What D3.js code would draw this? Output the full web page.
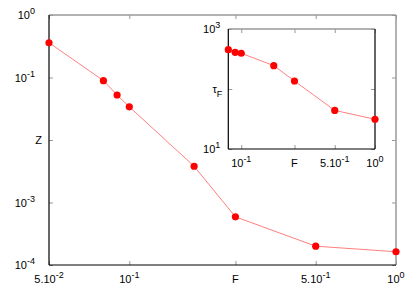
<!DOCTYPE html>
<html>
<head>
<meta charset="utf-8">
<script src="https://cdn.jsdelivr.net/npm/d3@7"></script>
<style>
body { margin: 0; background: #fff; }
text { font-family: "Liberation Sans", Arial, sans-serif; font-size: 11px; fill: #000; }
</style>
</head>
<body>
<script>
var w = 415, h = 291;

// main plot data
var F = [0.05, 0.08, 0.09, 0.1, 0.175, 0.25, 0.5, 1];
var Z = [0.36, 0.089, 0.0525, 0.034, 0.0038, 0.00059, 0.0002, 0.000163];
// inset data
var Fin = [0.08, 0.09, 0.1, 0.175, 0.25, 0.5, 1];
var tauF = [452, 409, 394, 245, 136, 44, 31.3];

// tick values and labels [base, superscript]
var mainXTicks = [0.05, 0.1, 0.25, 0.5, 1];
var mainXLabels = [["5.10", "-2"], ["10", "-1"], ["F", ""], ["5.10", "-1"], ["10", "0"]];
var mainYTicks = [1, 0.1, 0.01, 0.001, 0.0001];
var mainYLabels = [["10", "0"], ["10", "-1"], ["Z", ""], ["10", "-3"], ["10", "-4"]];
var inXTicks = [0.1, 0.25, 0.5, 1];
var inXLabels = [["10", "-1"], ["F", ""], ["5.10", "-1"], ["10", "0"]];
var inYTicks = [1000, 100, 10];
var inYLabels = [["10", "3"], ["\u03c4", "F"], ["10", "1"]];

var svg = d3.select("body").append("svg")
    .attr("width", w)
    .attr("height", h);

function label(sel, lab, anchor, sub) {
    sel.text(null).attr("text-anchor", anchor);
    sel.append("tspan").text(lab[0]);
    if (lab[1] != "") {
        sel.append("tspan")
            .attr("dy", sub ? 4 : -5)
            .style("font-size", "9px")
            .text(lab[1]);
    }
}

function panel(box, xd, yd, xs, ys, xt, xl, yt, yl, opt) {
    var x = d3.scaleLog().domain(xd).range([box.l, box.r]);
    var y = d3.scaleLog().domain(yd).range([box.b, box.t]);
    var g = svg.append("g");

    // ticks only (inward)
    var ax = [
        [d3.axisBottom(x).tickValues(xt), "translate(0," + box.b + ")", -4],
        [d3.axisTop(x).tickValues(xt), "translate(0," + box.t + ")", -4],
        [d3.axisLeft(y).tickValues(yt), "translate(" + box.l + ",0)", -4],
        [d3.axisRight(y).tickValues(yt), "translate(" + box.r + ",0)", -4]
    ];
    ax.forEach(function(a) {
        var ga = g.append("g").attr("transform", a[1])
            .call(a[0].tickSize(a[2]).tickSizeOuter(0).tickFormat(""));
        ga.select(".domain").remove();
        ga.selectAll(".tick line").attr("stroke", "#999").attr("stroke-width", 1);
    });

    // frame: top/right gray, left/bottom black
    g.append("line").attr("x1", box.l).attr("x2", box.r).attr("y1", box.t).attr("y2", box.t)
        .attr("stroke", "#999").attr("stroke-width", 1.5);
    g.append("line").attr("x1", box.r).attr("x2", box.r).attr("y1", box.t).attr("y2", box.b)
        .attr("stroke", opt.rightColor).attr("stroke-width", 1.5);
    g.append("line").attr("x1", box.l).attr("x2", box.l).attr("y1", box.t).attr("y2", box.b)
        .attr("stroke", "#000").attr("stroke-width", 1.2);
    g.append("line").attr("x1", box.l).attr("x2", box.r).attr("y1", box.b).attr("y2", box.b)
        .attr("stroke", "#000").attr("stroke-width", 1.2);

    // tick labels
    g.selectAll("text.xl").data(xt).enter().append("text")
        .attr("class", "xl")
        .attr("x", function(d) { return x(d); })
        .attr("y", box.b + opt.xlab)
        .each(function(d, i) { label(d3.select(this), xl[i], "middle", false); });
    g.selectAll("text.yl").data(yt).enter().append("text")
        .attr("class", "yl")
        .attr("x", function(d, i) { return box.l - opt.ylab + (yl[i][1] == "" || yl[i][0] == "\u03c4" ? opt.plain : 0); })
        .attr("y", function(d) { return y(d) + 4; })
        .each(function(d, i) { label(d3.select(this), yl[i], "end", yl[i][0] == "\u03c4"); });

    // line + points
    var pts = xs.map(function(v, i) { return [v, ys[i]]; });
    g.append("path").datum(pts)
        .attr("fill", "none")
        .attr("stroke", "#ff8080")
        .attr("stroke-width", 1)
        .attr("d", d3.line().x(function(d) { return x(d[0]); }).y(function(d) { return y(d[1]); }));
    g.selectAll("circle").data(pts).enter().append("circle")
        .attr("cx", function(d) { return x(d[0]); })
        .attr("cy", function(d) { return y(d[1]); })
        .attr("r", 3.6)
        .attr("fill", "#ff0000");
}

panel({l: 49, r: 396, t: 15, b: 265}, [0.05, 1], [1e-4, 1], F, Z,
      mainXTicks, mainXLabels, mainYTicks, mainYLabels,
      {rightColor: "#999", xlab: 18, ylab: 14, plain: 7});

panel({l: 228.3, r: 375, t: 29, b: 149}, [0.08, 1], [10, 1000], Fin, tauF,
      inXTicks, inXLabels, inYTicks, inYLabels,
      {rightColor: "#333", xlab: 18, ylab: 8, plain: 2});
</script>
</body>
</html>
